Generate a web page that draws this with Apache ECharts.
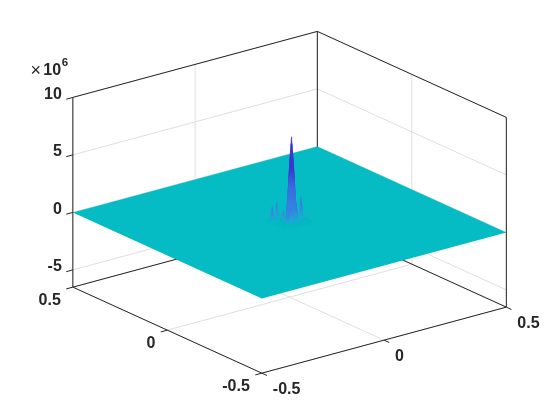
<!DOCTYPE html>
<html><head><meta charset="utf-8">
<style>html,body{margin:0;padding:0;background:#fff}#c{width:560px;height:420px}</style>
<script src="https://cdn.jsdelivr.net/npm/echarts@6/dist/echarts.min.js"></script>
</head><body><div id="c"></div>
<script>
// ---- chart values ----
const xTicks = [-0.5, 0, 0.5];
const yTicks = [-0.5, 0, 0.5];
const zTicks = [-5, 0, 5, 10];          // in units of 1e6
const xLimits = [-0.5, 0.5];
const yLimits = [-0.5, 0.5];
const zLimits = [-6.5, 10];
const zExponent = '6';
// surface heights (x 1e6) around the centre; everything else is flat at zero
const gridStep = 1 / 128;
const gridIdxX = [-8,-7,-6,-5,-4,-3,-2,-1,0,1,2,3,4,5,6,7,8];
const gridIdxY = [8,7,6,5,4,3,2,1,0,-1,-2,-3,-4,-5,-6,-7,-8];
const zRowP8 = [0,0,0,0,0,0,0,0,0,0,0,0,0,0,0,0,0];
const zRowP7 = [0,0,0,0,0,0,0,0,0,0,0,0,0,0,0,0,0];
const zRowP6 = [0,0,0.3,0,0.2,0,1.43,0,0.4,0,0.1,0,0,0,0,0,0];
const zRowP5 = [0,0,0,0,0,0,0,0,0,0,0,0,0,0,0,0,0];
const zRowP4 = [0,0,1.45,0,0.5,0,0.3,0,0.9,0,0.2,0,0.3,0,0,0,0];
const zRowP3 = [0,0,0,0,0,0,0,0,0,0,0,0,0,0,0,0,0];
const zRowP2 = [0,0,0.1,0,0.2,0,0.9,0,0.3,2.2,0.3,1.5,0.3,0,0.2,0,0];
const zRowP1 = [0,0,0,0,0,0,0,0.2,2.5,5,4,0.2,0,0,0,0,0];
const zRow0  = [0,0,0.4,0,0.5,0,0,1.8,5,7.4,5,1.8,0.9,0,1.95,0,0];
const zRowM1 = [0,0,0,0,0,0,0,0.2,4,5,2.5,0.2,0,0,0,0,0];
const zRowM2 = [0,0,0.1,0,0.3,0,0,1.5,0.3,2.2,1.0,0,0.3,0,0.2,0,0];
const zRowM3 = [0,0,0,0,0,0,0,0,0,0,0,0,0,0,0,0,0];
const zRowM4 = [0,0,0.3,0,1.67,0,0.3,0,0.7,0,0.2,0,0.5,0,0.6,0,0];
const zRowM5 = [0,0,0,0,0,0,0,0,0,0,0,0,0,0,0,0,0];
const zRowM6 = [0,0,0,0,0.1,0,0.4,0,0.5,0,0.3,0,0.1,0,0.35,0,0];
const zRowM7 = [0,0,0,0,0,0,0,0,0,0,0,0,0,0,0,0,0];
const zRowM8 = [0,0,0,0,0,0,0,0,0,0,0,0,0,0,0,0,0];
const zMatrix = [zRowP8,zRowP7,zRowP6,zRowP5,zRowP4,zRowP3,zRowP2,zRowP1,zRow0,zRowM1,zRowM2,zRowM3,zRowM4,zRowM5,zRowM6,zRowM7,zRowM8];
// colour ramp: height (x 1e6) -> colour
const rampZ = [0, 0.1, 0.4, 1.0, 3.2, 4.5, 7.4];
const rampC = [[5,188,196],[5,188,196],[40,165,212],[55,135,226],[60,105,226],[58,58,210],[64,56,208]];
const plateColor = '#05BCC4';
const axisColor = '#262626';
const gridColor = '#DFDFDF';

// ---- projection of the 3D axes box on the 2D plane ----
const O = [289.6, 222.4], EX = [244.5, -66], EY = [-189, -86], EZ = [0, -11.5];
const P = (x, y, z) => [O[0] + EX[0]*x + EY[0]*y + EZ[0]*z, O[1] + EX[1]*x + EY[1]*y + EZ[1]*z];

const [x0, x1] = xLimits, [y0, y1] = yLimits, [z0, z1] = zLimits;

// gridlines
const gridRows = [];
xTicks.forEach(x => { gridRows.push([x,y1,z0,x,y1,z1]); gridRows.push([x,y0,z0,x,y1,z0]); });
yTicks.forEach(y => { gridRows.push([x1,y,z0,x1,y,z1]); gridRows.push([x0,y,z0,x1,y,z0]); });
zTicks.forEach(z => { gridRows.push([x0,y1,z,x1,y1,z]); gridRows.push([x1,y0,z,x1,y1,z]); });
// box edges behind the surface
const backRows = [[x0,y1,z0,x1,y1,z0],[x1,y0,z0,x1,y1,z0],[x1,y1,z0,x1,y1,z1]];
// box edges in front
const frontRows = [
  [x0,y1,z0,x0,y1,z1],[x0,y1,z1,x1,y1,z1],[x1,y1,z1,x1,y0,z1],[x1,y0,z1,x1,y0,z0],
  [x0,y1,z0,x0,y0,z0],[x0,y0,z0,x1,y0,z0]
];
// ticks
const tickFrac = 0.027;
const tickRows = [];
zTicks.forEach(z => tickRows.push([x0,y1,z,x0-tickFrac,y1,z]));
yTicks.forEach(y => tickRows.push([x0,y,z0,x0-tickFrac,y,z0]));
xTicks.forEach(x => tickRows.push([x,y0,z0,x,y0-tickFrac,z0]));
// tick labels: anchor + text + kind
const fmt = v => String(v);
const labelRows = [];
zTicks.forEach(z => labelRows.push([x0,y1,z,fmt(z),'z']));
yTicks.forEach(y => labelRows.push([x0,y,z0,fmt(y),'y']));
xTicks.forEach(x => labelRows.push([x,y0,z0,fmt(x),'x']));
// surface cells, back to front
const cellRows = [];
for (let c = gridIdxX.length - 2; c >= 0; c--) {
  for (let r = 0; r < gridIdxY.length - 1; r++) {
    const q = [zMatrix[r][c], zMatrix[r][c+1], zMatrix[r+1][c+1], zMatrix[r+1][c]];
    if (Math.max(...q) === 0) continue;
    cellRows.push([gridIdxX[c]*gridStep, gridIdxX[c+1]*gridStep, gridIdxY[r]*gridStep, gridIdxY[r+1]*gridStep, ...q]);
  }
}
const plateRows = [[x0,y0,x1,y0,x1,y1,x0,y1]];

function ramp(z) {
  let k = 0;
  while (k < rampZ.length - 2 && z > rampZ[k+1]) k++;
  const t = Math.min(1, Math.max(0, (z - rampZ[k]) / (rampZ[k+1] - rampZ[k])));
  const a = rampC[k], b = rampC[k+1];
  return 'rgb(' + a.map((v,i) => Math.round(v + (b[i]-v)*t)).join(',') + ')';
}

const lineSeries = (name, rows, color, width) => ({
  type: 'custom', name, coordinateSystem: 'cartesian2d', silent: true, clip: false,
  data: rows, encode: {x: 0, y: 1},
  renderItem(p, api) {
    const a = P(api.value(0), api.value(1), api.value(2));
    const b = P(api.value(3), api.value(4), api.value(5));
    const s = api.coord(a), e = api.coord(b);
    return {type: 'line', shape: {x1: s[0], y1: s[1], x2: e[0], y2: e[1]},
      style: {stroke: color, lineWidth: width, fill: null}};
  }
});

const TXT = {fontFamily: '"Liberation Sans", Arial, sans-serif', fontWeight: 'bold', fontSize: 16, fill: '#262626'};

const option = {
  animation: false,
  backgroundColor: '#fff',
  grid: {left: 0, right: 0, top: 0, bottom: 0},
  xAxis: {type: 'value', min: 0, max: 560, show: false},
  yAxis: {type: 'value', min: 0, max: 420, inverse: true, show: false},
  series: [
    lineSeries('grid', gridRows, gridColor, 1),
    lineSeries('backBox', backRows, axisColor, 1),
    {
      type: 'custom', name: 'plate', silent: true, clip: false, data: plateRows, encode: {x: 0, y: 1},
      renderItem(p, api) {
        const pts = [0,2,4,6].map(i => api.coord(P(api.value(i), api.value(i+1), 0)));
        return {type: 'polygon', shape: {points: pts}, style: {fill: plateColor}};
      }
    },
    {
      type: 'custom', name: 'surface', silent: true, clip: false, data: cellRows, encode: {x: 0, y: 2},
      renderItem(p, api) {
        const xa = api.value(0), xb = api.value(1), ya = api.value(2), yb = api.value(3);
        const q = [api.value(4), api.value(5), api.value(6), api.value(7)];
        const n = 4, kids = [];
        const Z = (u, v) => q[0]*(1-u)*(1-v) + q[1]*u*(1-v) + q[2]*u*v + q[3]*(1-u)*v;
        const pt = (u, v) => api.coord(P(xa + (xb-xa)*u, ya + (yb-ya)*v, Z(u, v)));
        for (let iu = n-1; iu >= 0; iu--) for (let iv = 0; iv < n; iv++) {
          const u0 = iu/n, u1 = (iu+1)/n, v0 = iv/n, v1 = (iv+1)/n;
          const col = ramp(Z((u0+u1)/2, (v0+v1)/2));
          kids.push({type: 'polygon', shape: {points: [pt(u0,v0), pt(u1,v0), pt(u1,v1), pt(u0,v1)]},
            style: {fill: col, stroke: col, lineWidth: 0.2}});
        }
        return {type: 'group', children: kids};
      }
    },
    lineSeries('frontBox', frontRows, axisColor, 1),
    lineSeries('ticks', tickRows, axisColor, 1),
    {
      type: 'custom', name: 'tickLabels', silent: true, clip: false, data: labelRows,
      dimensions: ['x','y','z',{name:'t',type:'ordinal'},{name:'k',type:'ordinal'}], encode: {x: 0, y: 1},
      renderItem(p, api) {
        const row = labelRows[p.dataIndex];
        const a = api.coord(P(row[0], row[1], row[2]));
        const k = row[4];
        const off = k === 'z' ? [-11, -3, 'right'] : k === 'y' ? [-12, 13.5, 'right'] : [11, 16.5, 'left'];
        return {type: 'text', x: a[0] + off[0], y: a[1] + off[1],
          style: Object.assign({}, TXT, {text: row[3], align: off[2], verticalAlign: 'middle'})};
      }
    },
    {
      type: 'custom', name: 'exponent', silent: true, clip: false, data: [[x0, y1, z1]], encode: {x: 0, y: 1},
      renderItem(p, api) {
        const a = api.coord(P(api.value(0), api.value(1), api.value(2)));
        return {type: 'group', children: [
          {type: 'text', x: a[0]-37, y: a[1]-26, style: {text: '\u00D7', font: '18px "Liberation Sans"', fill: '#262626', align: 'center', verticalAlign: 'middle'}},
          {type: 'text', x: a[0]-29.5, y: a[1]-27, style: Object.assign({}, TXT, {text: '10', align: 'left', verticalAlign: 'middle'})},
          {type: 'text', x: a[0]-11, y: a[1]-35, style: Object.assign({}, TXT, {text: zExponent, fontSize: 11.5, align: 'left', verticalAlign: 'middle'})}
        ]};
      }
    }
  ]
};
echarts.init(document.getElementById('c'), null, {renderer: 'canvas'}).setOption(option);
</script></body></html>
